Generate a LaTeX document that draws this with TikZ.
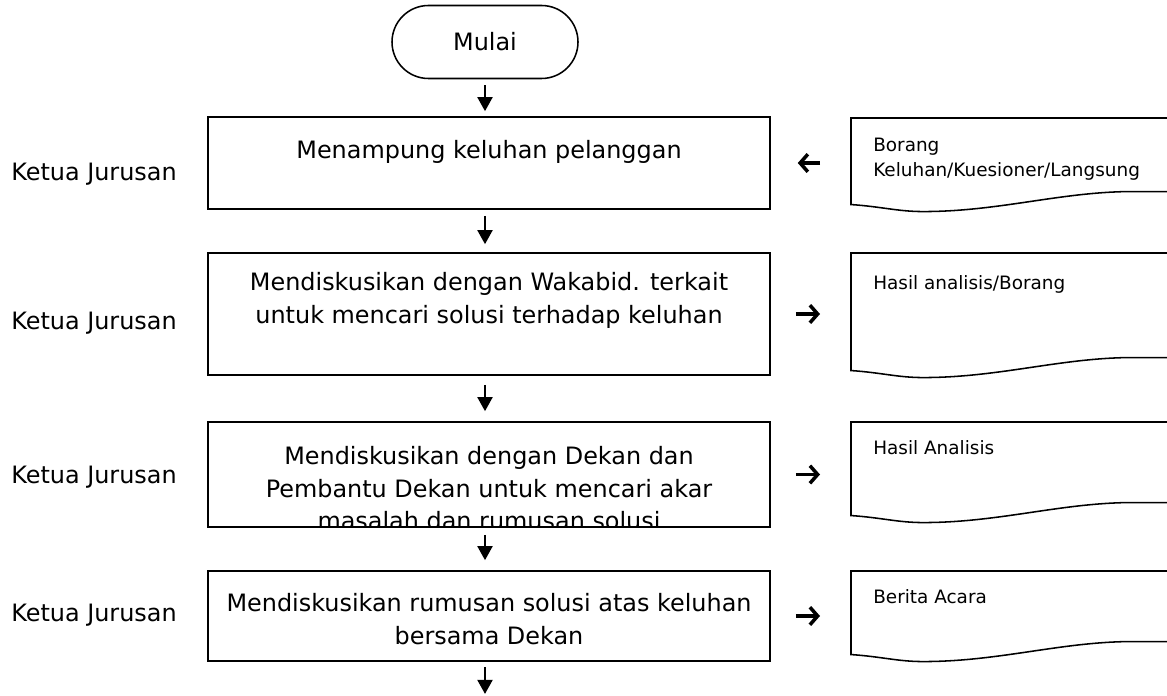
\documentclass[tikz,border=0pt]{standalone}
\usepackage{fontspec}
\setmainfont{DejaVu Sans}
\usetikzlibrary{arrows.meta,shapes.misc}
\newlength{\px}
\setlength{\px}{0.025cm}
\newcommand{\bigfont}{\fontsize{17}{23.3}\selectfont}
\newcommand{\smallfont}{\fontsize{13.1}{17.8}\selectfont}
\newcommand{\docoutline}[1]{%
  \draw[docline] (#1.north east) -- (#1.north west) -- (#1.south west)
    .. controls +(30,2) and +(-25,0) .. ++(72,7)
    .. controls +(75,0) and +(-70,1) .. ++(205,-20) -- ++(60,0);}

\begin{document}
\begin{tikzpicture}[x=0.025cm, y=-0.025cm,
    stepbox/.style={draw, line width=1.1pt, minimum width=562\px, inner sep=0pt},
    startnode/.style={draw, rounded rectangle, line width=1.1pt, minimum width=186\px,
      minimum height=73\px, inner sep=0pt, font=\bigfont},
    boxtext/.style={anchor=north, align=center, inner sep=0pt, font=\bigfont},
    role/.style={anchor=base, inner sep=0pt, font=\bigfont},
    docnode/.style={anchor=north west, minimum width=330\px, inner sep=0pt},
    docline/.style={line width=1.1pt},
    doctext/.style={anchor=north west, align=left, inner sep=0pt, font=\smallfont},
    flow/.style={line width=1.9pt, -{Triangle[length=10pt,width=10.5pt]}},
    side/.style={line width=2.5pt, -{Straight Barb[length=5.5pt,width=12.5pt]}}]

    \useasboundingbox (0,0) rectangle (1167,696);

    \node[startnode] (start) at (485,42) {Mulai};

    % langkah
    \node[stepbox, minimum height=92\px] (b1) at (489,163) {};
    \node[stepbox, minimum height=122\px] (b2) at (489,314) {};
    \node[stepbox, minimum height=105\px] (b3) at (489,474.5) {};
    \node[stepbox, minimum height=90\px] (b4) at (489,616) {};

    \node[boxtext] (t1) at (489,140) {Menampung keluhan pelanggan};
    \node[boxtext] (t2) at (489,272) {Mendiskusikan dengan Wakabid. terkait\\untuk mencari solusi terhadap keluhan};
    \begin{scope}
      \clip (b3.north west) rectangle (b3.south east);
      \node[boxtext] (t3) at (489,446) {Mendiskusikan dengan Dekan dan\\Pembantu Dekan untuk mencari akar\\masalah dan rumusan solusi};
    \end{scope}
    \node[boxtext] (t4) at (489,593) {Mendiskusikan rumusan solusi atas keluhan\\bersama Dekan};

    \node[role] (r1) at (94,181) {Ketua Jurusan};
    \node[role] (r2) at (94,329) {Ketua Jurusan};
    \node[role] (r3) at (94,483) {Ketua Jurusan};
    \node[role] (r4) at (94,621) {Ketua Jurusan};

    % dokumen
    \node[docnode, minimum height=86\px] (d1) at (851,118) {};
    \node[docnode, minimum height=117\px] (d2) at (851,253) {};
    \node[docnode, minimum height=93\px] (d3) at (851,422) {};
    \node[docnode, minimum height=83\px] (d4) at (851,571) {};
    \docoutline{d1}
    \docoutline{d2}
    \docoutline{d3}
    \docoutline{d4}

    \node[doctext] (l1) at (873,138) {Borang\\Keluhan/Kuesioner/Langsung};
    \node[doctext] (l2) at (873,275) {Hasil analisis/Borang};
    \node[doctext] (l3) at (873,440) {Hasil Analisis};
    \node[doctext] (l4) at (873,589) {Berita Acara};

    % alur
    \draw[flow, shorten <=6\px, shorten >=5\px] (start.south) -- (start.south |- b1.north);
    \draw[flow, shorten <=6\px, shorten >=8\px] (start.south |- b1.south) -- (start.south |- b2.north);
    \draw[flow, shorten <=9\px, shorten >=10\px] (start.south |- b2.south) -- (start.south |- b3.north);
    \draw[flow, shorten <=7\px, shorten >=10\px] (start.south |- b3.south) -- (start.south |- b4.north);
    \coordinate (end) at (485,696);
    \draw[flow, shorten <=5\px, shorten >=2\px] (start.south |- b4.south) -- (end);

    \draw[side, shorten <=31\px, shorten >=27\px] (d1.west |- b1.east) -- (b1.east);
    \draw[side, shorten <=25\px, shorten >=31\px] (b2.east) -- (b2.east -| d2.west);
    \draw[side, shorten <=25\px, shorten >=31\px] (b3.east) -- (b3.east -| d3.west);
    \draw[side, shorten <=25\px, shorten >=31\px] (b4.east) -- (b4.east -| d4.west);

\end{tikzpicture}
\end{document}
